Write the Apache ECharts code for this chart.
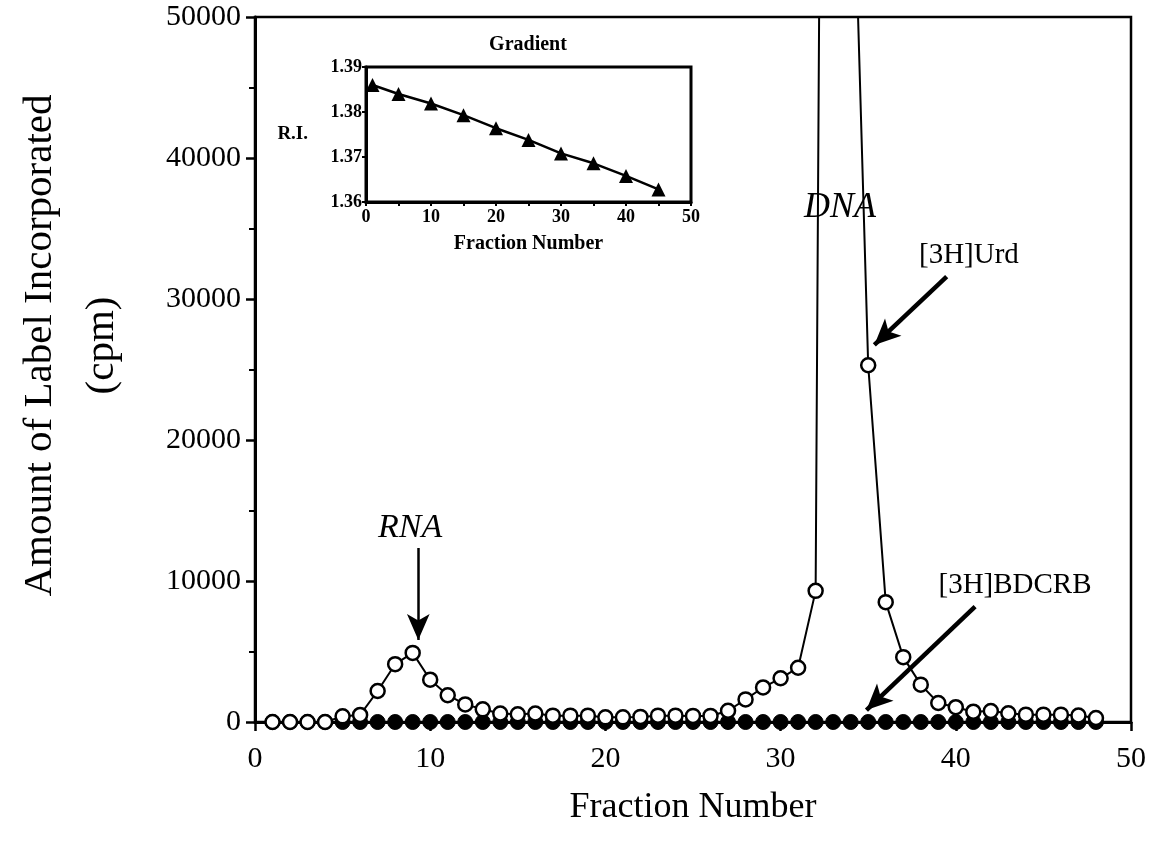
<!DOCTYPE html>
<html>
<head>
<meta charset="utf-8">
<script src="https://cdn.jsdelivr.net/npm/echarts@6/dist/echarts.min.js"></script>
<style>
html,body{margin:0;padding:0;background:#fff;}
#chart{width:1149px;height:851px;}
</style>
</head>
<body>
<div id="chart"></div>
<script>
// ---- data ----
const fractions = [1,2,3,4,5,6,7,8,9,10,11,12,13,14,15,16,17,18,19,20,21,22,23,24,25,26,27,28,29,30,31,32,33,34,35,36,37,38,39,40,41,42,43,44,45,46,47,48];
const urdValues = [0,0,0,0,400,500,2200,4100,4900,3000,1900,1250,900,600,550,600,450,450,450,330,330,360,450,450,430,430,800,1600,2450,3100,3850,9300,215000,68000,25300,8500,4600,2650,1350,1050,730,780,620,520,520,520,460,280];
const bdcrbValues = [0,0,0,0,0,0,0,0,0,0,0,0,0,0,0,0,0,0,0,0,0,0,0,0,0,0,0,0,0,0,0,0,0,0,0,0,0,0,0,0,0,0,0,0,0,0,0,0];
const gradFractions = [1,5,10,15,20,25,30,35,40,45];
const riValues = [1.386,1.384,1.3819,1.3793,1.3764,1.3738,1.3708,1.3686,1.3658,1.3628];
const yTicks = [0,10000,20000,30000,40000,50000];
const xTicks = [0,10,20,30,40,50];

const serif = '"Liberation Serif", "DejaVu Serif", serif';
const zip = (xs, ys) => xs.map((x, i) => [x, ys[i]]);

const chart = echarts.init(document.getElementById('chart'));
const option = {
  backgroundColor: '#fff',
  animation: false,
  title: {
    text: 'Gradient',
    left: 523, top: 30, textAlign: 'center',
    textStyle: {fontFamily: serif, fontWeight: 'bold', fontSize: 20, color: '#000'}
  },
  grid: [
    {left: 255, right: 18, top: 17, bottom: 129, show: true, borderColor: '#000', borderWidth: 2.5, backgroundColor: 'transparent', containLabel: false, outerBoundsMode: 'none'},
    {left: 366, right: 458, top: 67, bottom: 649, show: true, borderColor: '#000', borderWidth: 3, backgroundColor: '#fff', z: 5, containLabel: false, outerBoundsMode: 'none'}
  ],
  xAxis: [
    {
      gridIndex: 0, type: 'value', min: xTicks[0], max: xTicks[xTicks.length - 1], interval: 10,
      name: 'Fraction Number', nameLocation: 'middle', nameGap: 68,
      nameTextStyle: {fontFamily: serif, fontSize: 36, color: '#000'},
      axisLine: {show: true, onZero: false, lineStyle: {color: '#000', width: 3}},
      axisTick: {show: true, inside: false, length: 9, lineStyle: {color: '#000', width: 2.5}},
      axisLabel: {fontFamily: serif, fontSize: 30, color: '#000', margin: 22, formatter: v => String(v)},
      splitLine: {show: false}
    },
    {
      gridIndex: 1, type: 'value', min: 0, max: 50, interval: 10,
      name: 'Fraction Number', nameLocation: 'middle', nameGap: 32,
      nameTextStyle: {fontFamily: serif, fontSize: 20, fontWeight: 'bold', color: '#000'},
      axisLine: {show: true, onZero: false, lineStyle: {color: '#000', width: 3}},
      axisTick: {show: true, length: 4, lineStyle: {color: '#000', width: 2}},
      minorTick: {show: true, splitNumber: 2, length: 4, lineStyle: {color: '#000', width: 2}},
      axisLabel: {fontFamily: serif, fontSize: 18, fontWeight: 'bold', color: '#000', margin: 6, formatter: v => String(v)},
      splitLine: {show: false}, z: 6
    }
  ],
  yAxis: [
    {
      gridIndex: 0, type: 'value', min: yTicks[0], max: yTicks[yTicks.length - 1], interval: 10000,
      name: 'Amount of Label Incorporated\n(cpm)', nameLocation: 'middle', nameGap: 122, nameRotate: 90,
      nameTextStyle: {fontFamily: serif, fontSize: 41, color: '#000', lineHeight: 62, align: 'center', padding: [0, 0, 0, 48]},
      axisLine: {show: true, onZero: false, lineStyle: {color: '#000', width: 3}},
      axisTick: {show: true, length: 9, lineStyle: {color: '#000', width: 2.5}},
      minorTick: {show: true, splitNumber: 2, length: 6, lineStyle: {color: '#000', width: 2}},
      axisLabel: {fontFamily: serif, fontSize: 30, color: '#000', margin: 14, formatter: v => String(v)},
      splitLine: {show: false}
    },
    {
      gridIndex: 1, type: 'value', min: 1.36, max: 1.39, interval: 0.01,
      name: 'R.I.', nameLocation: 'middle', nameGap: 58, nameRotate: 0,
      nameTextStyle: {fontFamily: serif, fontSize: 19, fontWeight: 'bold', color: '#000', padding: [12, 0, 0, 0]},
      axisLine: {show: true, onZero: false, lineStyle: {color: '#000', width: 3}},
      axisTick: {show: true, length: 4, lineStyle: {color: '#000', width: 2}},
      axisLabel: {fontFamily: serif, fontSize: 18, fontWeight: 'bold', color: '#000', margin: 4,
        formatter: v => v.toFixed(2)},
      splitLine: {show: false}, z: 6
    }
  ],
  series: [
    {
      name: '[3H]BDCRB', type: 'line', xAxisIndex: 0, yAxisIndex: 0,
      data: zip(fractions, bdcrbValues),
      symbol: 'circle', symbolSize: 15, showAllSymbol: true,
      itemStyle: {color: '#000', borderColor: '#000', borderWidth: 1},
      lineStyle: {color: '#000', width: 2},
      z: 2
    },
    {
      name: '[3H]Urd', type: 'line', xAxisIndex: 0, yAxisIndex: 0,
      data: zip(fractions, urdValues),
      symbol: 'circle', symbolSize: 14, showAllSymbol: true, clip: true,
      itemStyle: {color: '#fff', borderColor: '#000', borderWidth: 2.5},
      lineStyle: {color: '#000', width: 2},
      z: 3,
      markLine: {
        silent: true, animation: false,
        symbol: ['none', 'arrow'],
        label: {show: false},
        lineStyle: {color: '#000', type: 'solid', width: 4},
        data: [
          [{coord: [9.32, 12340], symbolSize: [17, 26], lineStyle: {width: 2.5, color: '#000', type: 'solid'}}, {coord: [9.32, 5815], symbolSize: [17, 26]}],
          [{coord: [39.48, 31580], symbolSize: [18, 26], lineStyle: {width: 4.5, color: '#000', type: 'solid'}}, {coord: [35.35, 26740], symbolSize: [18, 26]}],
          [{coord: [41.1, 8180], symbolSize: [18, 26], lineStyle: {width: 4.5, color: '#000', type: 'solid'}}, {coord: [34.9, 850], symbolSize: [18, 26]}]
        ]
      },
      markPoint: {
        silent: true, animation: false,
        symbol: 'circle', symbolSize: 1,
        itemStyle: {color: 'rgba(0,0,0,0)'},
        label: {show: true, position: 'inside', color: '#000', fontFamily: serif, formatter: p => p.name},
        data: [
          {name: 'RNA', coord: [8.85, 13760], label: {fontSize: 34, fontStyle: 'italic'}},
          {name: 'DNA', coord: [33.39, 36520], label: {fontSize: 36, fontStyle: 'italic'}},
          {name: '[3H]Urd', coord: [40.75, 33120], label: {fontSize: 29}},
          {name: '[3H]BDCRB', coord: [43.38, 9720], label: {fontSize: 29}}
        ]
      }
    },
    {
      name: 'Gradient', type: 'line', xAxisIndex: 1, yAxisIndex: 1,
      data: zip(gradFractions, riValues),
      symbol: 'triangle', symbolSize: 14, showAllSymbol: true,
      itemStyle: {color: '#000'},
      lineStyle: {color: '#000', width: 2.5},
      z: 7
    }
  ]
};
chart.setOption(option);
</script>
</body>
</html>
